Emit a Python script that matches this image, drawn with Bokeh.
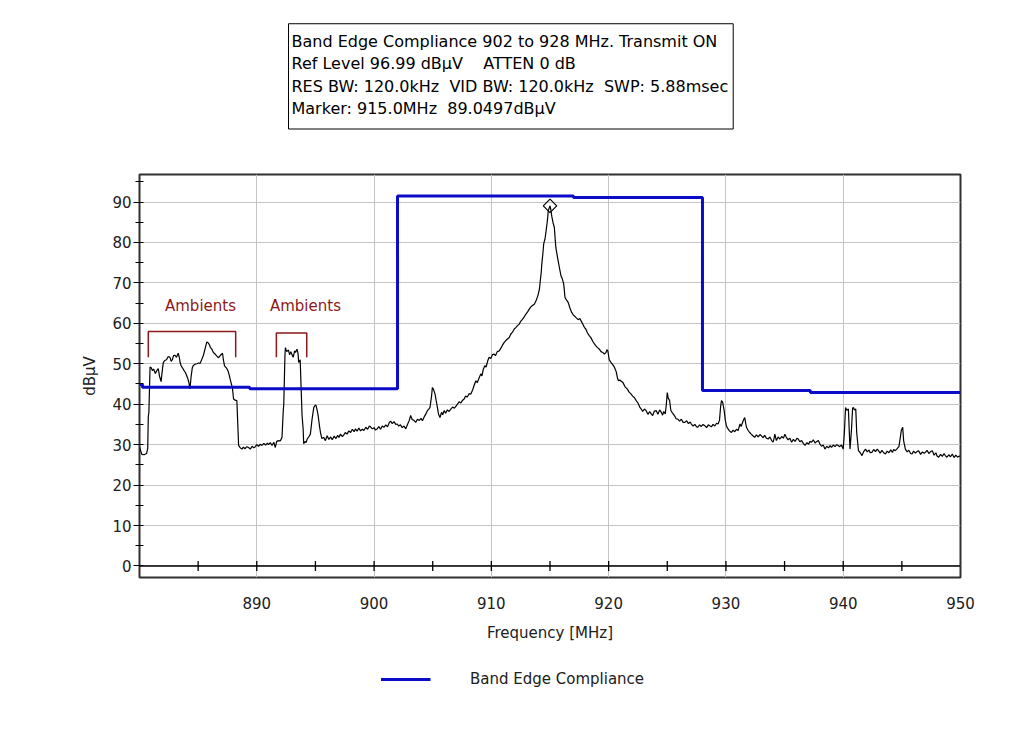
import math
from bokeh.plotting import figure
from bokeh.layouts import column
from bokeh.models import Range1d, FixedTicker, Span, Title, Legend, LegendItem
from bokeh.embed import file_html
from bokeh.resources import INLINE
from bokeh.core.properties import value

FONT = "DejaVu Sans"
FS = "15px"
DARKRED = "#8B1A1A"
BLUE = "#0B0BC8"
NB = "\u00a0"

# ---------------- data ----------------
freq = [
    880.0, 880.1, 880.2, 880.4, 880.6, 880.7, 880.75, 880.8, 880.9, 881.0,
    881.1, 881.2, 881.35, 881.47, 881.6, 881.7, 881.84, 881.95, 882.03, 882.15,
    882.3, 882.45, 882.6, 882.7, 882.8, 882.9, 883.03, 883.15, 883.3, 883.4,
    883.46, 883.55, 883.66, 883.8, 883.9, 884.0, 884.1, 884.2, 884.3, 884.4,
    884.5, 884.6, 884.74, 884.9, 885.05, 885.17, 885.3, 885.45, 885.6, 885.74,
    885.85, 885.94, 886.05, 886.17, 886.3, 886.45, 886.6, 886.74, 886.9, 887.08,
    887.15, 887.25, 887.4, 887.54, 887.65, 887.73, 887.85, 887.93, 888.02, 888.15,
    888.3, 888.38, 888.45, 888.6, 888.73, 888.85, 889.0, 889.15, 889.3, 889.45,
    889.6, 889.75, 889.87, 890.0, 890.15, 890.3, 890.44, 890.6, 890.75, 890.9,
    891.0, 891.15, 891.3, 891.45, 891.58, 891.7, 891.86, 892.0, 892.15, 892.25,
    892.3, 892.4, 892.44, 892.55, 892.7, 892.8, 892.9, 893.0, 893.1, 893.23,
    893.3, 893.43, 893.52, 893.57, 893.7, 893.78, 893.86, 893.95, 894.0, 894.1,
    894.2, 894.3, 894.45, 894.57, 894.7, 894.86, 895.0, 895.06, 895.15, 895.23,
    895.35, 895.43, 895.55, 895.7, 895.85, 896.0, 896.15, 896.3, 896.43, 896.6,
    896.75, 896.9, 897.0, 897.14, 897.3, 897.42, 897.55, 897.7, 897.85, 898.0,
    898.15, 898.3, 898.42, 898.55, 898.7, 898.85, 899.0, 899.13, 899.3, 899.45,
    899.6, 899.7, 899.85, 900.0, 900.13, 900.27, 900.4, 900.55, 900.7, 900.84,
    901.0, 901.15, 901.3, 901.41, 901.55, 901.7, 901.85, 901.98, 902.1, 902.25,
    902.4, 902.55, 902.7, 902.85, 903.0, 903.12, 903.25, 903.4, 903.55, 903.7,
    903.85, 904.0, 904.12, 904.3, 904.45, 904.55, 904.7, 904.77, 904.9, 904.97,
    905.05, 905.2, 905.3, 905.4, 905.5, 905.62, 905.75, 905.85, 905.97, 906.1,
    906.25, 906.4, 906.54, 906.7, 906.85, 907.0, 907.11, 907.25, 907.4, 907.55,
    907.68, 907.8, 907.95, 908.1, 908.25, 908.4, 908.55, 908.68, 908.8, 908.95,
    909.1, 909.2, 909.3, 909.44, 909.55, 909.7, 909.81, 909.95, 910.1, 910.24,
    910.35, 910.5, 910.67, 910.8, 910.95, 911.1, 911.25, 911.4, 911.52, 911.65,
    911.8, 911.95, 912.1, 912.25, 912.38, 912.5, 912.65, 912.8, 912.95, 913.1,
    913.23, 913.35, 913.5, 913.66, 913.8, 913.9, 914.0, 914.1, 914.17, 914.25,
    914.3, 914.4, 914.46, 914.52, 914.57, 914.65, 914.74, 914.8, 914.85, 914.92,
    915.0, 915.08, 915.15, 915.25, 915.37, 915.45, 915.5, 915.6, 915.7, 915.8,
    915.94, 916.05, 916.17, 916.28, 916.4, 916.56, 916.7, 916.85, 917.0, 917.1,
    917.22, 917.4, 917.55, 917.65, 917.8, 917.93, 918.05, 918.2, 918.36, 918.5,
    918.65, 918.79, 918.9, 919.05, 919.21, 919.35, 919.5, 919.64, 919.78, 919.85,
    919.93, 920.05, 920.21, 920.35, 920.5, 920.65, 920.75, 920.84, 920.95, 921.1,
    921.21, 921.4, 921.58, 921.75, 921.92, 922.05, 922.2, 922.35, 922.5, 922.65,
    922.78, 922.9, 923.05, 923.2, 923.35, 923.5, 923.63, 923.75, 923.9, 924.06,
    924.2, 924.35, 924.49, 924.6, 924.7, 924.83, 924.92, 925.0, 925.08, 925.2,
    925.3, 925.4, 925.5, 925.65, 925.75, 925.9, 926.05, 926.2, 926.35, 926.5,
    926.65, 926.8, 926.95, 927.05, 927.2, 927.35, 927.5, 927.6, 927.75, 927.9,
    928.05, 928.2, 928.35, 928.5, 928.65, 928.76, 928.9, 929.05, 929.2, 929.33,
    929.45, 929.55, 929.62, 929.72, 929.85, 929.95, 930.04, 930.15, 930.3, 930.47,
    930.6, 930.75, 930.9, 931.04, 931.2, 931.3, 931.47, 931.6, 931.75, 931.9,
    932.03, 932.15, 932.3, 932.45, 932.6, 932.75, 932.9, 933.03, 933.15, 933.3,
    933.45, 933.6, 933.75, 933.9, 934.02, 934.1, 934.17, 934.3, 934.45, 934.6,
    934.75, 934.9, 935.03, 935.15, 935.3, 935.45, 935.6, 935.75, 935.9, 936.05,
    936.17, 936.3, 936.45, 936.6, 936.74, 936.9, 937.05, 937.15, 937.3, 937.45,
    937.6, 937.75, 937.88, 938.0, 938.15, 938.3, 938.44, 938.6, 938.75, 938.9,
    939.0, 939.15, 939.3, 939.45, 939.57, 939.7, 939.85, 940.0, 940.1, 940.2,
    940.3, 940.44, 940.52, 940.58, 940.7, 940.8, 940.87, 940.95, 941.07, 941.15,
    941.3, 941.45, 941.6, 941.75, 941.9, 942.05, 942.2, 942.3, 942.44, 942.6,
    942.75, 942.9, 943.0, 943.15, 943.3, 943.45, 943.6, 943.75, 943.9, 944.05,
    944.2, 944.3, 944.44, 944.6, 944.75, 944.87, 944.95, 945.07, 945.15, 945.3,
    945.45, 945.6, 945.75, 945.87, 946.0, 946.15, 946.3, 946.43, 946.6, 946.75,
    946.9, 947.0, 947.15, 947.3, 947.45, 947.6, 947.75, 947.9, 948.0, 948.14,
    948.3, 948.45, 948.6, 948.7, 948.85, 949.0, 949.15, 949.3, 949.45, 949.6,
    949.75, 949.84, 950.0,
]
level = [
    29.5, 28.5, 27.6, 27.5, 27.8, 29.0, 37.0, 38.0, 49.2, 49.0,
    48.3, 48.7, 47.6, 48.3, 48.8, 47.0, 45.6, 48.5, 50.3, 50.8,
    51.0, 51.8, 51.6, 50.6, 51.0, 52.0, 52.1, 51.6, 52.6, 51.5,
    50.3, 49.5, 49.0, 48.3, 47.9, 47.2, 46.5, 45.5, 43.8, 46.8,
    49.0, 49.6, 49.9, 50.0, 50.2, 50.1, 51.0, 52.1, 53.8, 55.4,
    55.2, 54.8, 54.0, 53.6, 52.8, 52.4, 51.9, 51.5, 52.1, 52.6,
    51.0, 49.5, 49.0, 48.3, 47.2, 46.2, 44.8, 43.8, 41.3, 41.0,
    40.9, 35.0, 29.8, 29.2, 28.9, 29.4, 29.0, 29.5, 29.3, 28.9,
    29.6, 29.2, 29.5, 30.0, 29.6, 30.1, 29.8, 30.3, 29.9, 30.4,
    30.0, 30.5, 29.8, 30.6, 29.3, 30.8, 31.0, 30.9, 31.8, 38.0,
    40.0, 52.0, 54.0, 53.0, 53.4, 52.2, 53.0, 52.3, 51.6, 53.2,
    52.8, 53.6, 52.5, 50.3, 51.0, 44.0, 37.2, 34.0, 30.2, 30.8,
    30.5, 31.4, 32.0, 32.6, 36.0, 39.2, 39.8, 39.6, 38.5, 37.2,
    34.5, 33.0, 31.5, 31.8, 31.0, 32.2, 31.3, 31.9, 31.2, 32.1,
    31.5, 32.3, 31.8, 32.6, 32.0, 32.4, 33.0, 32.6, 33.4, 33.0,
    33.8, 33.2, 33.9, 33.3, 34.1, 33.4, 33.8, 33.5, 34.3, 33.8,
    34.6, 34.4, 33.9, 34.2, 33.6, 33.9, 34.5, 33.8, 34.6, 34.3,
    34.9, 34.4, 35.5, 35.8, 35.2, 35.7, 35.0, 35.1, 34.6, 34.9,
    34.2, 34.6, 33.9, 35.0, 36.0, 37.2, 36.2, 36.0, 35.5, 36.3,
    36.0, 36.5, 35.9, 37.0, 37.8, 38.4, 38.9, 39.2, 42.0, 44.1,
    43.8, 42.5, 40.8, 39.2, 37.5, 36.7, 38.0, 37.4, 38.4, 37.8,
    38.6, 38.2, 38.8, 39.3, 39.0, 39.6, 40.0, 40.6, 40.3, 41.0,
    41.3, 42.0, 41.8, 42.6, 42.5, 43.5, 44.8, 45.8, 45.3, 46.5,
    47.5, 47.0, 48.5, 49.5, 49.2, 50.8, 51.6, 51.3, 52.3, 52.4,
    52.0, 53.0, 53.2, 53.8, 54.6, 55.3, 55.8, 56.2, 56.5, 57.3,
    57.8, 58.6, 59.0, 59.5, 59.8, 60.5, 61.0, 61.6, 62.3, 62.9,
    63.5, 64.0, 64.4, 64.7, 65.5, 66.3, 67.2, 68.5, 70.5, 72.5,
    74.6, 77.5, 79.6, 80.3, 80.8, 82.5, 84.5, 86.0, 87.8, 88.4,
    89.05, 88.0, 86.5, 85.0, 83.7, 80.5, 78.7, 77.0, 75.4, 73.8,
    71.7, 71.0, 69.7, 66.4, 65.8, 65.1, 63.8, 62.7, 62.0, 61.8,
    61.4, 60.9, 61.2, 60.6, 59.8, 59.0, 58.6, 57.6, 56.9, 56.4,
    55.5, 54.9, 54.5, 54.0, 53.6, 53.0, 52.8, 52.4, 52.8, 53.5,
    53.2, 51.0, 50.3, 49.8, 49.1, 48.0, 46.5, 45.8, 46.0, 45.6,
    45.4, 44.3, 43.8, 43.0, 42.5, 42.0, 41.6, 40.9, 40.3, 39.3,
    38.8, 38.2, 38.8, 38.4, 37.5, 38.2, 37.6, 37.2, 38.3, 38.4,
    37.5, 38.6, 38.0, 37.3, 38.2, 37.6, 40.0, 42.9, 41.5, 40.9,
    38.5, 38.0, 37.6, 37.0, 36.4, 36.3, 35.8, 36.3, 35.5, 35.5,
    35.9, 35.2, 35.6, 35.1, 34.6, 35.0, 34.4, 34.3, 34.9, 34.5,
    35.0, 34.7, 34.2, 34.9, 34.6, 34.4, 35.0, 34.6, 35.3, 35.1,
    36.0, 39.5, 40.9, 40.5, 38.4, 36.0, 34.7, 34.0, 33.4, 33.0,
    33.6, 33.2, 33.8, 33.5, 35.1, 34.5, 35.9, 36.7, 34.3, 33.5,
    33.0, 32.6, 32.2, 31.8, 32.4, 31.9, 32.5, 32.2, 31.7, 32.3,
    31.6, 31.4, 31.9, 31.0, 30.6, 31.5, 32.6, 31.0, 31.9, 31.4,
    32.0, 31.6, 32.6, 31.8, 31.2, 31.6, 30.6, 31.3, 30.8, 31.6,
    31.4, 30.7, 31.0, 30.3, 29.8, 30.5, 30.1, 30.8, 30.6, 31.2,
    30.4, 30.8, 31.0, 30.2, 29.6, 29.9, 28.9, 29.6, 29.2, 29.8,
    29.3, 29.9, 29.5, 30.0, 29.8, 29.5, 29.9, 28.9, 33.0, 39.2,
    38.5, 38.8, 33.0, 28.9, 33.5, 39.0, 39.2, 38.6, 38.8, 33.0,
    28.5, 28.0, 27.3, 28.3, 28.9, 28.2, 28.7, 28.0, 28.1, 28.8,
    28.3, 28.9, 28.5, 27.9, 28.6, 28.0, 27.7, 28.4, 28.0, 28.7,
    28.1, 28.8, 28.5, 29.0, 29.5, 31.8, 33.5, 34.3, 31.0, 28.9,
    28.2, 28.6, 27.8, 27.7, 28.4, 27.9, 28.3, 28.5, 27.6, 28.2,
    27.9, 28.1, 28.6, 27.8, 28.3, 28.5, 27.4, 28.0, 27.2, 26.9,
    27.6, 27.1, 27.8, 27.3, 26.9, 27.5, 27.0, 27.7, 26.8, 27.4,
    26.9, 27.1, 27.2,
]

limit_freq = [880.0, 880.25, 889.4, 902.0, 917.0, 928.0, 937.2, 950.0]
limit_level = [44.9, 44.2, 43.8, 91.5, 91.1, 43.4, 42.9, 42.9]

marker_freq = [915.0]
marker_level = [89.05]

bracket_left = [880.75, 891.67]
bracket_right = [888.2, 894.26]
bracket_top = [58.0, 57.6]
bracket_bottom = [51.6, 51.6]
ambient_x = [885.2, 894.15]
ambient_y = [64.3, 64.3]
ambient_text = ["Ambients", "Ambients"]

x_ticks = [890, 900, 910, 920, 930, 940, 950]
x_grid = [890, 900, 910, 920, 930, 940]
x_small_ticks = [885, 890, 895, 900, 905, 910, 915, 920, 925, 930, 935, 940, 945]
y_ticks = [0, 10, 20, 30, 40, 50, 60, 70, 80, 90]
y_minor = [5, 15, 25, 35, 45, 55, 65, 75, 85, 95]

header_lines = [
    "Band Edge Compliance 902 to 928 MHz. Transmit ON",
    "Ref Level 96.99 dB\u00b5V" + NB * 3 + " ATTEN 0 dB",
    "RES BW: 120.0kHz" + NB + " VID BW: 120.0kHz" + NB + " SWP: 5.88msec",
    "Marker: 915.0MHz" + NB + " 89.0497dB\u00b5V",
]
legend_label = "Band Edge Compliance"

# ---------------- main figure ----------------
p = figure(frame_width=821, frame_height=403,
           x_range=Range1d(880, 950), y_range=Range1d(-2.85, 96.8),
           output_backend="svg", toolbar_location=None,
           min_border_left=139, min_border_right=60,
           min_border_top=100, min_border_bottom=75)
p.background_fill_color = "white"
p.border_fill_color = "white"
p.outline_line_color = "#303030"
p.outline_line_width = 2

# grid
p.xgrid.ticker = FixedTicker(ticks=x_grid)
p.ygrid.ticker = FixedTicker(ticks=y_ticks)
p.xgrid.grid_line_color = "#c4c4c4"
p.ygrid.grid_line_color = "#c4c4c4"

# x axis
xa = p.xaxis[0]
xa.ticker = FixedTicker(ticks=x_ticks, minor_ticks=[])
xa.axis_line_color = None
xa.major_tick_line_color = None
xa.minor_tick_line_color = None
xa.major_label_standoff = 13
xa.axis_label = "Frequency [MHz]"
xa.axis_label_standoff = 12
xa.axis_label_text_font_style = "normal"

# y axis
ya = p.yaxis[0]
ya.ticker = FixedTicker(ticks=y_ticks, minor_ticks=y_minor)
ya.axis_line_color = "#303030"
ya.major_tick_in = 4
ya.major_tick_out = 6
ya.minor_tick_in = 4
ya.minor_tick_out = 4
ya.major_tick_line_color = "black"
ya.minor_tick_line_color = "black"
ya.major_label_standoff = 2
ya.axis_label = "dB\u00b5V"
ya.axis_label_standoff = 10
ya.axis_label_text_font_style = "normal"

for ax in (xa, ya):
    ax.major_label_text_font = FONT
    ax.major_label_text_font_size = FS
    ax.major_label_text_color = "#202020"
    ax.axis_label_text_font = FONT
    ax.axis_label_text_font_size = FS
    ax.axis_label_text_color = "#202020"

# zero line with ticks
p.add_layout(Span(location=0, dimension="width", line_color="black", line_width=1.5))
p.scatter(x=x_small_ticks, y=[0] * len(x_small_ticks), marker="dash", angle=math.pi / 2,
          size=10, line_color="black", line_width=1.3)

# trace
p.line(freq, level, line_color="black", line_width=1.2)

# limit line
p.step(limit_freq, limit_level, mode="after", line_color=BLUE, line_width=3)

# marker
p.scatter(marker_freq, marker_level, marker="square", angle=math.pi / 4, size=9.5,
          fill_color=None, line_color="black", line_width=1.2)

# ambient brackets
xs = [[l, l, r, r] for l, r in zip(bracket_left, bracket_right)]
ys = [[b, t, t, b] for b, t in zip(bracket_bottom, bracket_top)]
p.multi_line(xs, ys, line_color=DARKRED, line_width=1.5)
p.text(x=ambient_x, y=ambient_y, text=ambient_text, text_align="center",
       text_baseline="middle", text_font=value(FONT), text_font_size=FS,
       text_color=DARKRED)

# header box (title panel above the frame)
header = Title(text="\n".join(header_lines), align="left", offset=149, standoff=91,
               text_font=FONT, text_font_size="16px", text_font_style="normal",
               text_color="black", text_line_height=1.18,
               border_line_color="black", border_line_width=1,
               background_fill_color="white",
               padding=dict(left=3, right=5, top=8, bottom=11))
p.add_layout(header, "above")

# ---------------- legend strip below (same side borders as the main plot) ----------------
q = figure(width=1020, height=70, x_range=Range1d(0, 1), y_range=Range1d(0, 1),
           output_backend="svg", toolbar_location=None,
           x_axis_location=None, y_axis_location=None,
           min_border_left=139, min_border_top=17, min_border_right=60, min_border_bottom=0)
q.outline_line_color = None
q.xgrid.visible = False
q.ygrid.visible = False
q.background_fill_color = "white"
q.border_fill_color = "white"
legend_r = q.step(limit_freq, limit_level, mode="after", line_color=BLUE, line_width=3)
legend = Legend(items=[LegendItem(label=legend_label, renderers=[legend_r])],
                location="top_center", orientation="horizontal",
                glyph_width=50, glyph_height=20, label_width=249,
                label_standoff=40, padding=0, margin=0, spacing=0,
                border_line_color=None, background_fill_alpha=0,
                label_text_font=FONT, label_text_font_size=FS,
                label_text_color="#202020")
q.add_layout(legend)

layout = column(p, q, spacing=0)
layout.styles = {"margin-top": "-24px"}

open("out.html", "w").write(file_html(layout, INLINE))
